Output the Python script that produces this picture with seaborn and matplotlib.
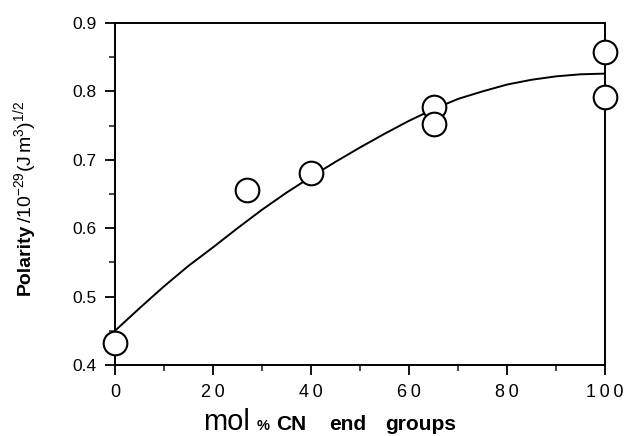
import matplotlib
matplotlib.use("Agg")
import matplotlib.pyplot as plt
import seaborn as sns
import pandas as pd
from matplotlib.ticker import MultipleLocator

# data
mol_pct = [0, 27, 40, 65, 65, 100, 100]
polarity = [0.432, 0.656, 0.681, 0.777, 0.752, 0.858, 0.792]
fit_x = [0, 5, 10, 15, 20, 25, 30, 35, 40, 45, 50, 55, 60, 65, 70, 75, 80, 85, 90, 95, 100]
fit_y = [0.450, 0.483, 0.515, 0.545, 0.572, 0.600, 0.627, 0.652, 0.675, 0.697,
         0.718, 0.738, 0.757, 0.774, 0.789, 0.800, 0.810, 0.817, 0.822, 0.825, 0.826]
x_ticks = [0, 20, 40, 60, 80, 100]
y_ticks = [0.4, 0.5, 0.6, 0.7, 0.8, 0.9]

sns.set_theme(style="ticks")
plt.rcParams['font.family'] = ['Liberation Sans', 'DejaVu Sans']
plt.rcParams['mathtext.fontset'] = 'custom'
plt.rcParams['mathtext.rm'] = 'Liberation Sans'
plt.rcParams['mathtext.bf'] = 'Liberation Sans:bold'

W, H = 627, 436
fig = plt.figure(figsize=(W/100, H/100), dpi=100)
ax = fig.add_axes([115/W, 1-365/H, (605-115)/W, (365-23)/H])

pts = pd.DataFrame({"x": mol_pct, "y": polarity})
fit = pd.DataFrame({"x": fit_x, "y": fit_y})

sns.lineplot(data=fit, x="x", y="y", ax=ax, color="black", linewidth=1.4,
             zorder=2)
sns.scatterplot(data=pts, x="x", y="y", ax=ax, s=290, facecolor="white",
                edgecolor="black", linewidth=1.5, zorder=3, clip_on=False)

ax.set_xlim(0, 100)
ax.set_ylim(0.4, 0.9)
ax.set_xticks(x_ticks)
ax.set_yticks(y_ticks)
ax.set_xticklabels(["\u2009".join(str(v)) for v in x_ticks])
ax.set_yticklabels([f"{v:.1f}" for v in y_ticks])
ax.xaxis.set_minor_locator(MultipleLocator(10))
ax.yaxis.set_minor_locator(MultipleLocator(0.05))
ax.tick_params(which="major", direction="out", length=7, width=1.3,
               labelsize=12.5, colors="black")
ax.tick_params(axis="x", which="major", pad=7, labelsize=13)
ax.tick_params(axis="y", which="major", pad=6)
ax.tick_params(which="minor", direction="out", length=4, width=1.2)
for s in ax.spines.values():
    s.set_linewidth(1.4)
    s.set_color("black")
ax.set_xlabel("")
ax.set_ylabel("")

fig.canvas.draw()
r = fig.canvas.get_renderer()

# y label: bold "Polarity" starting (bottom) at y=295 px, unit text above it
t1 = fig.text(25/W, 1-295/H, "Polarity", rotation=90, ha="center", va="bottom",
              fontsize=14, fontweight="bold", color="black")
bb = t1.get_window_extent(r)
fig.text(26/W, (bb.y1 + 1)/H, r"$/10^{-29}(\mathrm{J\,m}^3)^{1/2}$",
         rotation=90, ha="center", va="bottom", fontsize=14, color="black")

# x label: large "mol" then bold words
base = 1 - 430/H
fig.text(203/W, base, "mol", ha="left", va="baseline", fontsize=21, color="black")
fig.text(257/W, base, "%", ha="left", va="baseline", fontsize=10.5,
         fontweight="bold", color="black")
fig.text(276/W, base, "CN", ha="left", va="baseline", fontsize=15,
         fontweight="bold", color="black")
fig.text(329/W, base, "end", ha="left", va="baseline", fontsize=15,
         fontweight="bold", color="black")
fig.text(385/W, base, "groups", ha="left", va="baseline", fontsize=15,
         fontweight="bold", color="black")

fig.savefig("out.png", dpi=100)
